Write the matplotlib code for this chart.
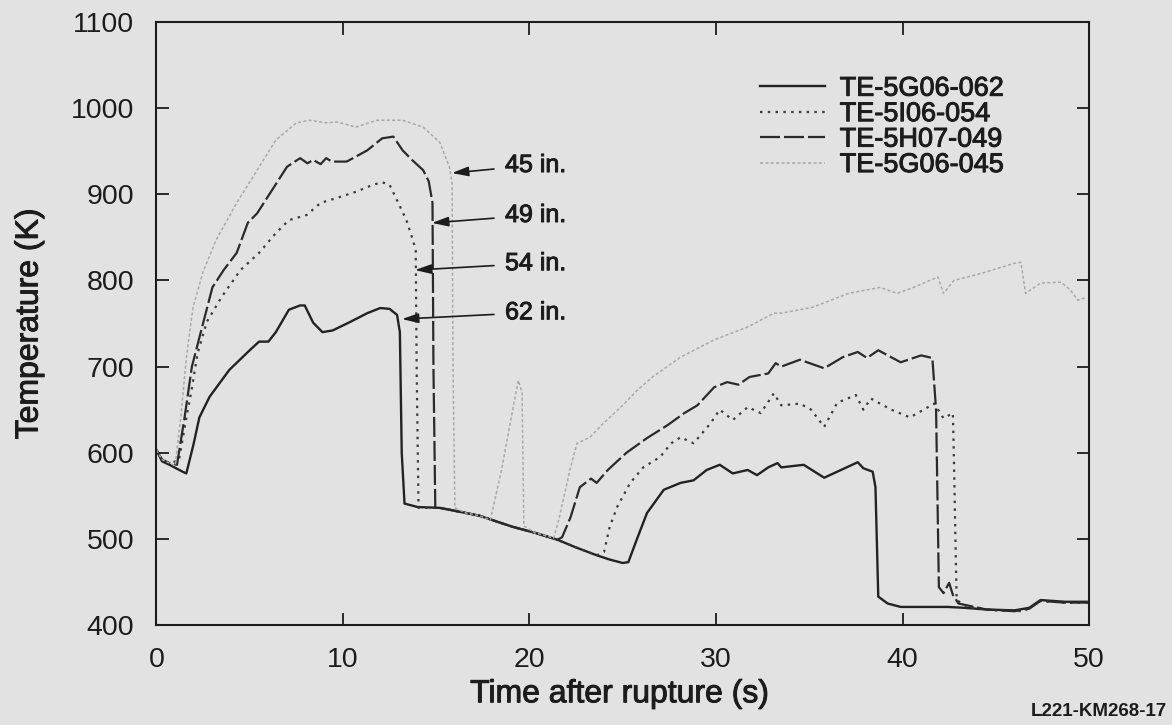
import matplotlib
matplotlib.use('Agg')
import matplotlib.pyplot as plt
import matplotlib.patheffects as pe

# thermocouple traces (time in s, temperature in K)

t_062 = [0, 0.3, 0.7, 1.4, 1.6, 2.0, 2.3, 2.85, 3.9, 5.0, 5.5, 6.0, 6.4, 7.1, 7.7, 7.95, 8.4, 8.9,
         9.45, 10.4, 11.3, 12.0, 12.5, 12.9, 13.05, 13.15, 13.3, 14.0, 15.2, 16.6, 17.3, 18.4, 19.1,
         20.3, 21.5, 22.5, 23.6, 24.3, 25.0, 25.3, 25.8, 26.3, 27.2, 28.1, 28.8, 29.5, 30.2, 30.9,
         31.7, 32.2, 32.8, 33.3, 33.5, 34.7, 35.8, 36.7, 37.6, 37.9, 38.4, 38.55, 38.7, 39.2, 39.9,
         42.4, 43.3, 44.5, 46.0, 46.8, 47.4, 48.7, 50]
T_062 = [603, 590, 586, 578, 576, 611, 641, 665, 696, 719, 729, 729, 740, 766, 771, 771, 751, 740,
         742, 752, 762, 768, 767, 760, 740, 600, 541, 537, 536, 530, 527, 519, 514,
         507, 499, 490, 481, 476, 472, 473, 502, 530, 557, 565, 568, 580, 586, 576,
         580, 574, 583, 588, 583, 586, 571, 580, 589, 582, 578, 560, 433, 425, 421,
         421, 420, 418, 417, 420, 429, 427, 427]

t_054 = [0, 0.3, 0.7, 1.2, 1.6, 1.9, 2.2, 2.7, 3.5, 4.5, 5.5, 6.4, 7.1, 8.05, 8.8, 9.7, 10.7, 11.6,
         12.1, 12.5, 12.9, 13.4, 13.75, 13.9, 13.95, 14.05, 14.3, 15.2, 16.6, 17.3, 18.4, 19.1, 20.3,
         21.5, 22.5, 23.6, 24.0, 24.3, 24.7, 25.4, 26.1, 27.0, 27.6, 28.1, 28.8, 29.7, 30.2, 30.9,
         31.7, 32.4, 33.1, 33.5, 34.5, 35.1, 35.8, 36.5, 37.5, 37.9, 38.3, 39.4, 40.4, 41.7, 42.2,
         42.7, 42.75, 42.9, 43.5, 45.0, 46.5, 47.4, 48.7, 50]
T_054 = [603, 592, 588, 591, 640, 675, 715, 752, 781, 812, 832, 855, 870, 876, 890, 896, 903, 911,
         914, 911, 893, 870, 847, 835, 700, 536, 536, 536, 530, 527, 519, 514, 507,
         499, 490, 481, 485, 514, 537, 565, 583, 595, 611, 618, 611, 634, 650, 638,
         653, 646, 669, 655, 657, 650, 630, 658, 667, 650, 663, 650, 641, 657, 640,
         646, 600, 429, 421, 417, 416, 428, 426, 426]

t_049 = [0, 0.3, 0.7, 1.1, 1.5, 1.9, 2.4, 3.0, 3.6, 4.3, 4.9, 5.4, 6.2, 7.0, 7.7, 8.1, 8.4, 8.8, 9.1,
         9.4, 9.7, 10.2, 11.3, 12.1, 12.7, 13.2, 13.7, 14.3, 14.6, 14.8, 14.85, 14.95, 15.2, 16.6,
         17.3, 18.4, 19.1, 20.3, 21.5, 21.75, 22.2, 22.7, 23.3, 23.6, 24.2, 25.2, 26.3, 27.4, 28.3,
         29.0, 29.9, 30.6, 31.2, 31.8, 32.8, 33.2, 33.5, 34.5, 35.8, 36.8, 37.6, 38.1, 38.7, 39.9,
         41.0, 41.6, 41.8, 41.95, 42.2, 42.5, 42.7, 43.0, 44.5, 46.0, 46.8, 47.4, 48.7, 50]
T_049 = [603, 592, 588, 586, 640, 700, 742, 792, 812, 832, 867, 878, 905, 932, 942, 936, 940, 935, 942,
         938, 938, 938, 951, 965, 967, 951, 940, 928, 915, 890, 700, 536, 536, 530,
         527, 519, 514, 507, 499, 502, 525, 560, 570, 565, 580, 600, 617, 632, 646,
         655, 676, 682, 679, 688, 692, 704, 700, 708, 698, 711, 717, 710, 719, 705,
         713, 710, 650, 444, 437, 449, 435, 425, 418, 416, 419, 428, 426, 426]

t_045 = [0, 0.3, 0.7, 1.0, 1.3, 1.6, 1.96, 2.5, 3.2, 4.3, 5.4, 6.4, 7.5, 8.2, 9.1, 9.7, 10.7, 11.8,
         13.2, 14.3, 15.2, 15.7, 15.85, 15.9, 16.0, 16.6, 17.3, 17.9, 18.5, 19.1, 19.4, 19.6, 19.7,
         20.3, 21.3, 21.6, 22.2, 22.55, 23.25, 23.95, 24.9, 25.8, 26.6, 28.1, 29.9, 31.7, 33.1, 33.5,
         35.2, 37.1, 38.8, 39.7, 40.6, 41.9, 42.2, 42.75, 44.2, 46.0, 46.35, 46.6, 47.4, 48.5, 49.0,
         49.4, 49.8]
T_045 = [603, 592, 588, 585, 640, 710, 769, 810, 847, 890, 928, 963, 983, 986, 983, 984, 978, 986,
         986, 978, 960, 932, 913, 700, 536, 530, 527, 522, 580, 650, 684, 670, 515,
         507, 501, 525, 583, 611, 618, 634, 653, 673, 688, 711, 731, 746, 762, 762,
         769, 785, 792, 785, 792, 804, 785, 800, 808, 820, 821, 785, 797, 798, 789,
         777, 780]

labels = ['TE-5G06-062', 'TE-5I06-054', 'TE-5H07-049', 'TE-5G06-045']
elevations = ['45 in.', '49 in.', '54 in.', '62 in.']

bg = '#e2e2e2'
ink = '#1c1c1c'
plt.rcParams['font.family'] = ['Liberation Sans', 'DejaVu Sans']
# slight stroke on the text to mimic the heavy scanned lettering
heavy = [pe.withStroke(linewidth=0.7, foreground=ink)]

fig = plt.figure(figsize=(11.72, 7.25), dpi=100, facecolor=bg)
ax = fig.add_axes([0.1335, 0.1379, 0.7957, 0.8317], facecolor=bg)

ax.plot(t_062, T_062, color='#222222', lw=1.7, label=labels[0])
ax.plot(t_054, T_054, color='#3a3a3a', lw=1.6, linestyle=(0, (1.1, 2.4)), label=labels[1])
ax.plot(t_049, T_049, color='#2a2a2a', lw=1.6, linestyle=(0, (9, 1.8)), label=labels[2])
ax.plot(t_045, T_045, color='#a8a8a8', lw=1.1, linestyle=(0, (2, 1.5)), label=labels[3])

ax.set_xlim(0, 50)
ax.set_ylim(400, 1100)
ax.set_xticks(range(0, 51, 10))
ax.set_yticks(range(400, 1101, 100))
ax.tick_params(direction='in', length=9, width=1.3, top=True, right=True,
               labelsize=20.5, colors=ink, pad=16)
for s in ax.spines.values():
    s.set_linewidth(1.5)
    s.set_color(ink)

ax.set_xlabel('Time after rupture (s)', fontsize=23, color=ink)
ax.set_ylabel('Temperature (K)', fontsize=23, color=ink)
ax.xaxis.set_label_coords(0.497, -0.09)
ax.yaxis.set_label_coords(-0.12, 0.50)

leg = ax.legend(loc='upper left', bbox_to_anchor=(0.647, 0.911), frameon=False, fontsize=19.5,
                handlelength=2.4, handletextpad=0.55, labelspacing=-0.02, borderpad=0, borderaxespad=0)
for txt in leg.get_texts():
    txt.set_color(ink)

# elevation call-outs: arrow tip on each trace, text to the right
tips = [(15.84, 924.7), (14.77, 866.8), (13.86, 812.1), (13.16, 755.2)]
text_y = [934, 876, 820, 763]
for lab, tip, ty in zip(elevations, tips, text_y):
    ax.annotate(lab, xy=tip, xytext=(18.69, ty), fontsize=18, color=ink, va='center', ha='left',
                arrowprops=dict(arrowstyle='-|>,head_length=0.55,head_width=0.16', color=ink,
                                lw=1.2, shrinkA=6, shrinkB=0))

for t in fig.findobj(matplotlib.text.Text):
    if t.get_text():
        t.set_path_effects(heavy)

fig.text(0.996, 0.018, 'L221-KM268-17', ha='right', va='center', fontsize=13.5,
         fontweight='bold', color=ink)

fig.savefig('out.png', dpi=100, facecolor=bg)
